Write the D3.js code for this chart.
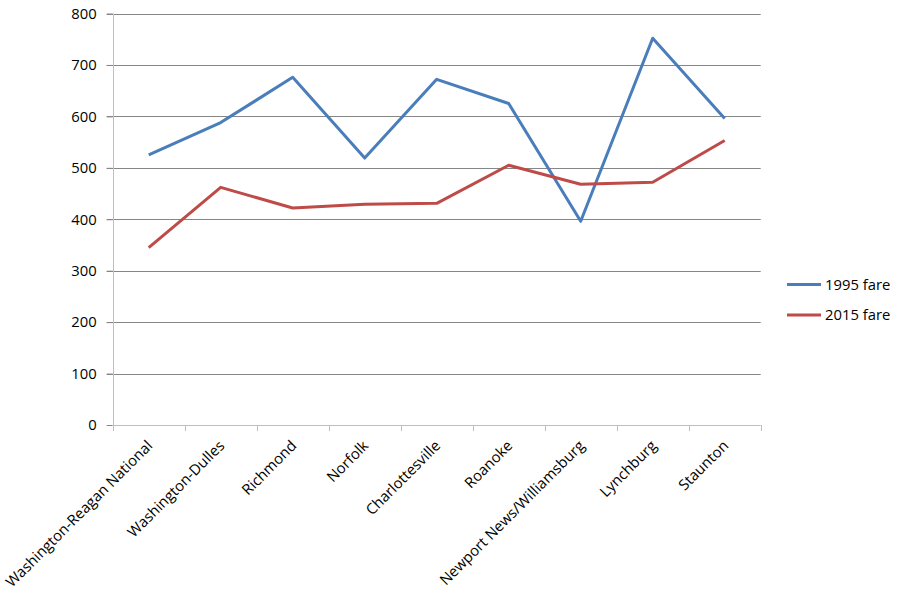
<!DOCTYPE html>
<html>
<head>
<meta charset="utf-8">
<script src="https://cdn.jsdelivr.net/npm/d3@7"></script>
<style>
  html, body { margin: 0; padding: 0; background: #fff; }
  svg { display: block; }
  text { font-family: "Open Sans", "Liberation Sans", sans-serif; fill: #000; }
</style>
</head>
<body>
<svg id="chart" width="900" height="598"></svg>
<script>
const categories = ["Washington-Reagan National", "Washington-Dulles", "Richmond", "Norfolk",
  "Charlottesville", "Roanoke", "Newport News/Williamsburg", "Lynchburg", "Staunton"];
const fare1995 = [525, 588, 676, 519, 672, 625, 396, 752, 596];
const fare2015 = [345, 462, 422, 429, 431, 505, 468, 472, 553];
const seriesNames = ["1995 fare", "2015 fare"];
const seriesColors = ["#4A7EBB", "#BE4B48"];
const yTicks = [0, 100, 200, 300, 400, 500, 600, 700, 800];

(function () {
const svg = d3.select("#chart");
const mLeft = 112.7, mRight = 760.7, mTop = 13.5, mBottom = 425;
const fs = "14.8px";

const x = d3.scaleBand().domain(categories).range([mLeft, mRight]).padding(0);
const y = d3.scaleLinear().domain([0, 800]).range([mBottom, mTop]);

// gridlines
svg.append("g").selectAll("line").data(yTicks.filter(d => d > 0)).join("line")
  .attr("x1", mLeft - 6).attr("x2", mRight)
  .attr("y1", d => Math.round(y(d)) + 0.5).attr("y2", d => Math.round(y(d)) + 0.5)
  .attr("stroke", "#868686").attr("stroke-width", 1);

// y axis
const yAxis = d3.axisLeft(y).tickValues(yTicks).tickSize(6).tickPadding(10).tickFormat(d3.format("d"));
const gy = svg.append("g").attr("transform", `translate(${mLeft},0)`).call(yAxis);
gy.select(".domain").remove();
gy.selectAll(".tick line").attr("stroke", "#868686");
gy.selectAll(".tick text").style("font-size", fs).attr("fill", "#000");
svg.append("line").attr("x1", Math.round(mLeft) + 0.5).attr("x2", Math.round(mLeft) + 0.5).attr("y1", mTop).attr("y2", mBottom + 6)
  .attr("stroke", "#BFBFBF");

// x axis
const xAxis = d3.axisBottom(x).tickSize(0).tickFormat(d => d);
const gx = svg.append("g").attr("transform", `translate(0,${mBottom})`).call(xAxis);
gx.select(".domain").remove();
svg.append("line").attr("x1", mLeft).attr("x2", mRight).attr("y1", Math.round(mBottom) + 0.5).attr("y2", Math.round(mBottom) + 0.5)
  .attr("stroke", "#BFBFBF");
const boundaries = categories.map(c => x(c)).concat([mRight]);
svg.append("g").selectAll("line").data(boundaries).join("line")
  .attr("x1", d => Math.round(d) + 0.5).attr("x2", d => Math.round(d) + 0.5)
  .attr("y1", mBottom).attr("y2", mBottom + 6)
  .attr("stroke", "#BFBFBF");
gx.selectAll(".tick text")
  .style("font-size", fs)
  .attr("text-anchor", "end")
  .attr("y", 0).attr("dy", "0.35em")
  .attr("transform", "translate(1,18) rotate(-45)");

// lines
const series = [fare1995, fare2015];
const line = d3.line().x((d, i) => x(categories[i]) + x.bandwidth() / 2).y(d => y(d));
series.forEach((s, k) => {
  svg.append("path").datum(s).attr("d", line)
    .attr("fill", "none").attr("stroke", seriesColors[k]).attr("stroke-width", 3)
    .attr("stroke-linejoin", "round");
});

// legend
const lg = svg.append("g");
seriesNames.forEach((n, k) => {
  const ly = 284.5 + k * 30.5;
  lg.append("line").attr("x1", 787).attr("x2", 821).attr("y1", ly).attr("y2", ly)
    .attr("stroke", seriesColors[k]).attr("stroke-width", 3);
  lg.append("text").attr("x", 825).attr("y", ly).attr("dy", "0.35em")
    .style("font-size", fs).text(n);
});
})();
</script>
</body>
</html>
